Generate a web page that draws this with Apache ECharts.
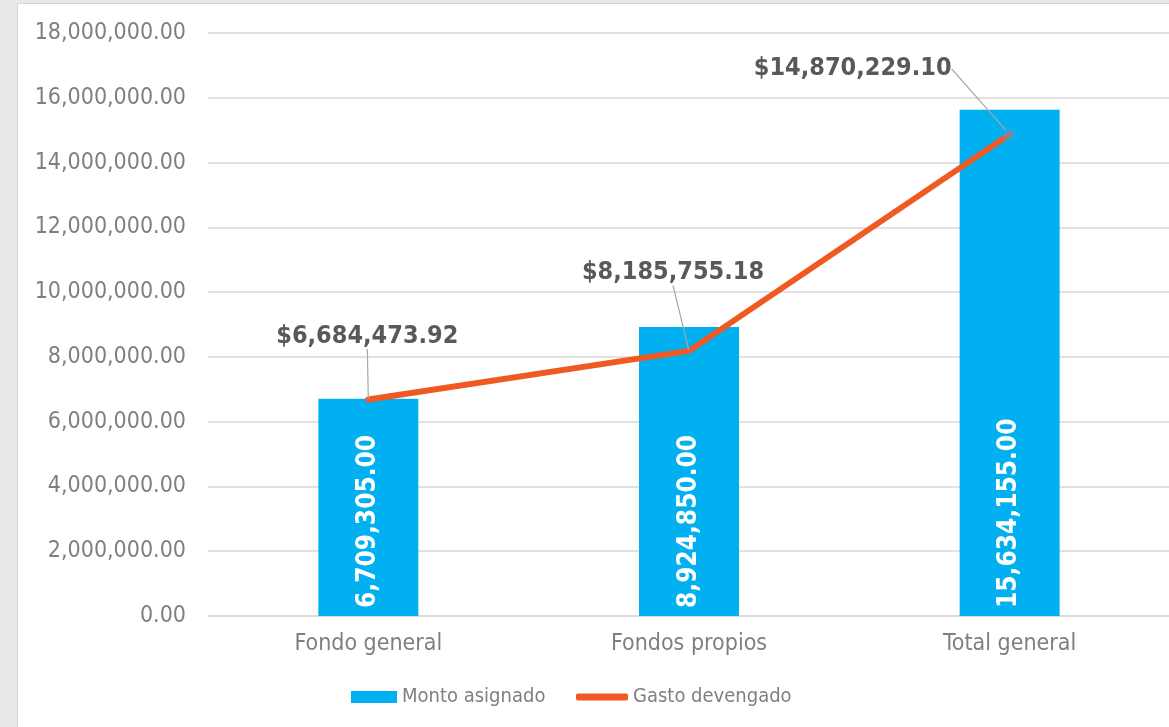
<!DOCTYPE html>
<html>
<head>
<meta charset="utf-8">
<script src="https://cdn.jsdelivr.net/npm/echarts@6/dist/echarts.min.js"></script>
<style>
    html, body { margin: 0; padding: 0; width: 1169px; height: 727px; background: #e9e9e9; overflow: hidden; }
    #chart { position: absolute; left: 17px; top: 3px; width: 1152px; height: 724px; background: #ffffff; border-left: 1px solid #d6d6d6; border-top: 1px solid #d6d6d6; }
</style>
</head>
<body>
<div id="chart"></div>
<script>
// categorias y valores
const categorias = ["Fondo general", "Fondos propios", "Total general"];
const montoAsignado = [6709305.0, 8924850.0, 15634155.0];
const gastoDevengado = [6684473.92, 8185755.18, 14870229.1];
// desplazamiento de las etiquetas de la linea (dx, dy)
const offsetsEtiqueta = [[-1, -45], [-16, -60], [-157, -42]];

const fmt = v => v.toLocaleString("en-US", { minimumFractionDigits: 2, maximumFractionDigits: 2 });
const fuente = "DejaVu Sans Condensed";
const gris = "#7f7f7f";

let chart = echarts.init(document.getElementById("chart"));

let option = {
    animation: false,
    textStyle: { fontFamily: fuente },
    grid: { left: 190, right: 0, top: 29, bottom: 112 },
    legend: [
        {
            left: 328,
            bottom: 16,
            itemWidth: 46,
            itemHeight: 12,
            textStyle: { fontSize: 20, color: gris, fontFamily: fuente },
            data: [{ name: "Monto asignado", icon: "rect" }]
        },
        {
            left: 553,
            bottom: 16,
            itemWidth: 52,
            itemHeight: 7,
            textStyle: { fontSize: 20, color: gris, fontFamily: fuente },
            data: [{ name: "Gasto devengado", icon: "roundRect", itemStyle: { color: "#f05a22" } }]
        }
    ],
    xAxis: {
        type: "category",
        data: categorias,
        axisTick: { show: false },
        axisLine: { lineStyle: { color: "#d9d9d9", width: 1.5 } },
        axisLabel: { fontSize: 23, color: gris, margin: 17, fontFamily: fuente }
    },
    yAxis: {
        type: "value",
        min: 0,
        max: 18000000,
        interval: 2000000,
        axisLabel: { fontSize: 23, color: gris, margin: 22, fontFamily: fuente, formatter: v => fmt(v) },
        splitLine: { lineStyle: { color: "#d9d9d9", width: 1.5 } }
    },
    series: [
        {
            name: "Monto asignado",
            type: "bar",
            barWidth: 100,
            data: montoAsignado,
            itemStyle: { color: "#00b0f0" },
            label: {
                show: true,
                position: "insideBottom",
                rotate: 90,
                align: "left",
                verticalAlign: "middle",
                distance: 8,
                color: "#ffffff",
                fontSize: 26,
                fontWeight: "bold",
                fontFamily: fuente,
                formatter: p => fmt(p.value)
            }
        },
        {
            name: "Gasto devengado",
            type: "line",
            data: gastoDevengado.map((v, i) => i === gastoDevengado.length - 1
                ? { value: v, symbolSize: 12, itemStyle: { color: "rgba(70,160,220,0.55)" } }
                : v),
            symbol: "circle",
            symbolSize: 1,
            z: 5,
            lineStyle: { color: "#f05a22", width: 6, cap: "round" },
            itemStyle: { color: "#f05a22" },
            label: {
                show: true,
                position: "top",
                distance: 5,
                color: "#595959",
                fontSize: 25,
                fontWeight: "bold",
                fontFamily: fuente,
                formatter: p => "$" + fmt(p.value)
            },
            labelLine: { show: true, lineStyle: { color: "#a6a6a6", width: 1.2 } },
            labelLayout: p => ({ dx: offsetsEtiqueta[p.dataIndex][0], dy: offsetsEtiqueta[p.dataIndex][1] })
        }
    ]
};

chart.setOption(option);
</script>
</body>
</html>
